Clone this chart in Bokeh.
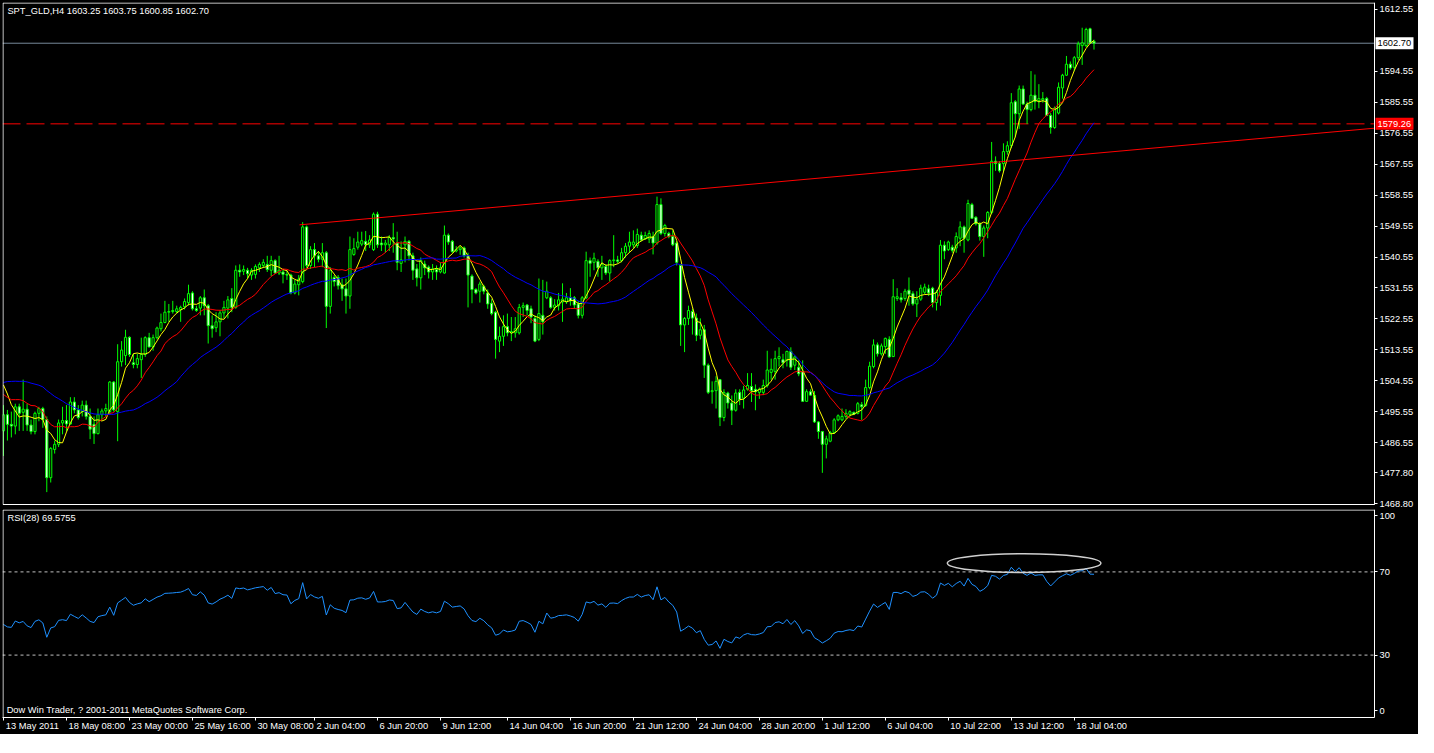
import numpy as np
from bokeh.plotting import figure
from bokeh.models import (ColumnDataSource, FixedTicker, Range1d, Label,
                          NumeralTickFormatter, LinearAxis)
from bokeh.layouts import column
from bokeh.embed import file_html
from bokeh.resources import INLINE

# ---------------- data (SPT_GLD, H4, 13 May 2011 08:00 .. 18 Jul 2011) ----------------
open_ = [
 1490.0,1494.7,1491.9,1491.4,1497.0,1495.4,1496.3,1491.7,1489.8,1495.1,
 1496.5,1493.3,1476.4,1484.6,1486.1,1492.3,1493.0,1492.0,1498.4,1496.1,
 1495.6,1497.5,1494.2,1491.9,1489.2,1494.7,1495.8,1495.6,1504.2,1495.6,
 1510.1,1511.9,1517.2,1509.8,1509.3,1510.7,1512.2,1517.1,1514.4,1517.1,
 1519.7,1521.5,1524.5,1524.7,1524.7,1525.3,1526.1,1527.3,1530.1,1525.5,
 1525.7,1528.7,1526.4,1520.6,1520.0,1521.7,1524.3,1525.7,1528.5,1525.9,
 1536.7,1536.4,1536.7,1535.3,1535.5,1537.4,1538.1,1538.4,1536.7,1539.5,
 1535.9,1536.2,1535.5,1535.3,1530.1,1532.5,1533.4,1549.3,1538.1,1542.7,
 1540.9,1539.9,1541.8,1526.2,1534.6,1534.6,1532.5,1531.3,1529.2,1541.3,
 1543.4,1544.3,1545.1,1544.1,1542.7,1553.0,1544.6,1544.1,1544.1,1546.2,
 1544.6,1538.7,1544.1,1545.1,1540.9,1537.1,1534.5,1538.5,1537.6,1536.2,
 1536.9,1536.2,1535.9,1546.9,1545.1,1542.3,1542.7,1543.2,1540.9,1535.0,
 1531.1,1530.6,1532.0,1530.1,1527.1,1524.5,1516.1,1517.5,1520.3,1518.5,
 1518.5,1518.5,1525.9,1526.6,1525.5,1522.7,1516.6,1523.6,1528.7,1528.7,
 1525.9,1526.4,1527.5,1527.5,1528.7,1528.7,1526.9,1523.6,1528.7,1539.5,
 1539.0,1539.3,1537.4,1537.8,1535.9,1539.5,1539.7,1539.5,1541.8,1543.7,
 1544.1,1543.9,1546.9,1545.8,1545.8,1546.5,1544.6,1555.8,1547.4,1547.4,
 1546.5,1544.6,1538.1,1520.8,1522.7,1524.7,1522.8,1517.8,1519.4,1509.1,
 1501.4,1501.7,1504.9,1493.9,1501.0,1498.1,1496.0,1501.2,1499.5,1502.1,
 1502.9,1502.1,1501.2,1501.2,1503.2,1507.0,1507.3,1511.0,1510.7,1510.5,
 1513.1,1509.1,1508.5,1507.3,1498.6,1501.4,1500.3,1492.6,1489.8,1486.1,
 1487.0,1489.5,1493.2,1493.2,1494.2,1494.8,1495.4,1495.1,1497.6,1497.4,
 1502.6,1508.7,1515.0,1512.4,1514.5,1516.6,1511.6,1528.5,1528.7,1528.5,
 1530.9,1529.9,1526.9,1528.3,1530.3,1531.3,1531.5,1527.3,1529.4,1544.0,
 1542.7,1543.4,1543.2,1546.0,1549.3,1545.5,1555.8,1552.1,1550.2,1546.5,
 1549.0,1553.5,1568.4,1567.7,1567.7,1571.2,1572.9,1585.7,1582.2,1589.4,
 1585.0,1583.4,1587.6,1586.0,1586.2,1586.6,1581.7,1578.2,1582.4,1589.7,
 1593.4,1596.6,1595.7,1598.5,1602.0,1602.0,1606.9,1603.25]
high_ = [
 1497.5,1496.1,1495.6,1497.9,1497.9,1504.9,1497.9,1493.3,1495.6,1497.0,
 1497.0,1494.2,1485.3,1487.2,1493.3,1497.0,1497.5,1499.8,1499.8,1497.5,
 1498.8,1498.8,1496.5,1494.2,1496.5,1496.5,1497.9,1504.5,1504.5,1515.2,
 1516.1,1519.4,1517.5,1512.4,1512.4,1517.1,1517.5,1518.5,1518.0,1520.3,
 1524.1,1527.8,1526.9,1527.8,1526.4,1526.4,1528.5,1532.5,1530.6,1526.4,
 1529.2,1531.1,1526.9,1523.6,1524.5,1525.0,1527.8,1529.2,1531.5,1538.1,
 1538.4,1538.1,1537.4,1537.3,1538.4,1539.0,1539.9,1540.9,1540.9,1539.9,
 1540.9,1537.1,1536.7,1535.7,1533.9,1535.3,1550.7,1549.7,1543.7,1544.6,
 1542.3,1544.6,1542.3,1537.6,1535.3,1535.3,1534.3,1534.3,1546.5,1546.0,
 1547.9,1547.9,1548.1,1546.9,1553.5,1553.7,1546.5,1545.5,1546.9,1550.4,
 1547.9,1545.1,1546.5,1545.5,1541.8,1538.5,1540.4,1539.5,1538.1,1538.5,
 1538.1,1539.0,1549.7,1547.4,1545.5,1543.7,1543.7,1543.6,1541.8,1535.5,
 1531.5,1533.4,1532.5,1531.1,1528.3,1524.9,1520.3,1523.6,1524.1,1523.1,
 1523.1,1526.9,1527.3,1526.9,1526.4,1523.6,1534.3,1533.9,1533.4,1529.2,
 1528.3,1530.1,1532.9,1530.1,1531.5,1529.2,1527.8,1529.2,1542.1,1540.4,
 1541.8,1539.9,1540.9,1538.5,1539.9,1546.9,1540.9,1543.2,1544.6,1547.9,
 1548.3,1548.8,1547.9,1547.9,1548.3,1547.9,1558.1,1557.6,1550.2,1547.9,
 1548.3,1545.1,1538.5,1523.1,1526.4,1525.5,1524.1,1522.7,1520.8,1509.6,
 1504.4,1505.9,1505.1,1502.1,1501.4,1500.3,1502.1,1502.1,1503.1,1506.8,
 1506.8,1503.5,1502.6,1504.9,1513.3,1511.0,1513.3,1514.3,1512.4,1513.3,
 1514.3,1511.9,1510.5,1510.5,1502.1,1502.1,1501.6,1492.8,1490.0,1488.6,
 1490.0,1493.7,1494.8,1496.5,1496.3,1496.0,1495.6,1498.4,1498.4,1504.9,
 1510.1,1516.6,1515.7,1515.4,1517.1,1517.5,1534.1,1531.5,1530.1,1531.3,
 1534.6,1530.6,1530.6,1532.5,1532.8,1532.5,1531.9,1530.9,1545.5,1545.1,
 1545.3,1544.1,1547.7,1550.9,1549.7,1557.2,1556.3,1552.4,1550.7,1549.7,
 1553.9,1574.0,1569.8,1568.4,1573.6,1574.2,1588.2,1586.2,1590.4,1590.4,
 1585.7,1594.6,1593.6,1590.8,1588.5,1587.1,1582.4,1584.3,1591.3,1593.8,
 1599.0,1597.4,1599.0,1603.2,1607.2,1607.2,1607.2,1603.75]
low_ = [
 1482.7,1487.2,1488.1,1489.0,1490.0,1490.0,1490.0,1489.0,1489.0,1492.8,
 1490.9,1472.2,1475.0,1483.4,1485.3,1489.0,1490.0,1491.9,1495.1,1493.3,
 1494.2,1493.3,1487.6,1486.2,1489.0,1493.3,1494.2,1494.7,1495.6,1487.0,
 1508.7,1509.1,1511.5,1508.2,1508.2,1505.4,1511.5,1514.3,1513.3,1516.6,
 1518.9,1521.3,1521.7,1524.1,1524.1,1521.7,1525.3,1526.4,1525.0,1524.6,
 1523.6,1523.6,1515.4,1517.1,1518.7,1517.5,1522.7,1522.7,1524.5,1525.5,
 1534.8,1535.3,1534.3,1533.9,1534.3,1536.2,1537.4,1536.2,1535.0,1535.7,
 1535.3,1532.9,1533.9,1529.7,1529.7,1529.4,1532.9,1537.4,1537.1,1537.6,
 1539.0,1537.6,1519.9,1524.1,1532.0,1531.1,1527.8,1524.1,1525.5,1540.9,
 1542.7,1543.7,1542.3,1543.2,1542.3,1543.2,1542.3,1541.8,1542.3,1541.8,
 1536.7,1536.2,1539.0,1539.5,1533.9,1532.0,1531.1,1535.3,1534.3,1533.9,
 1533.9,1535.8,1535.7,1544.1,1541.8,1541.9,1541.2,1540.4,1525.9,1527.1,
 1529.7,1527.3,1529.7,1525.5,1523.6,1511.0,1512.9,1514.7,1517.5,1516.1,
 1517.1,1518.0,1523.1,1523.6,1521.3,1515.8,1516.1,1518.0,1528.3,1525.5,
 1525.0,1525.0,1521.7,1526.9,1526.4,1525.5,1522.7,1522.7,1528.3,1534.8,
 1536.7,1534.8,1533.9,1535.3,1533.4,1537.6,1538.7,1539.0,1540.4,1541.8,
 1543.2,1543.2,1545.1,1545.5,1544.6,1541.3,1544.1,1546.9,1546.5,1546.0,
 1543.7,1538.1,1514.7,1512.9,1520.8,1518.0,1516.1,1516.6,1505.4,1500.7,
 1497.9,1496.5,1491.4,1492.8,1496.5,1491.7,1495.6,1497.5,1496.5,1501.7,
 1498.4,1496.0,1499.3,1500.4,1502.6,1504.9,1504.9,1508.7,1508.2,1508.7,
 1507.7,1507.7,1505.9,1498.4,1498.4,1500.3,1492.3,1487.7,1477.8,1482.0,
 1486.7,1489.1,1492.8,1492.8,1493.5,1494.2,1494.6,1494.8,1493.2,1497.0,
 1502.1,1508.2,1511.6,1511.9,1512.4,1511.3,1511.5,1527.8,1527.3,1527.8,
 1526.4,1526.4,1523.1,1527.8,1529.7,1529.2,1525.9,1525.0,1526.4,1539.9,
 1542.3,1541.8,1541.8,1543.7,1541.8,1545.1,1551.6,1549.7,1545.3,1540.6,
 1546.0,1553.0,1565.6,1565.1,1565.3,1570.3,1572.2,1575.4,1577.8,1584.8,
 1579.2,1582.9,1583.4,1583.8,1585.4,1581.5,1576.4,1577.8,1582.0,1586.6,
 1593.2,1595.0,1594.6,1597.8,1596.4,1601.6,1602.5,1600.85]
close_ = [
 1494.7,1491.9,1491.4,1497.0,1495.1,1496.3,1491.7,1489.8,1495.1,1496.5,
 1493.3,1476.4,1484.9,1486.1,1492.3,1493.0,1492.0,1498.4,1496.1,1493.9,
 1497.5,1494.2,1490.5,1489.2,1494.7,1495.8,1496.5,1504.2,1496.1,1510.1,
 1513.5,1517.2,1512.2,1509.3,1511.0,1512.2,1517.1,1514.4,1517.1,1519.9,
 1521.5,1524.5,1524.7,1525.0,1525.5,1525.9,1527.6,1529.9,1525.5,1525.0,
 1528.7,1526.4,1520.6,1519.7,1521.7,1524.3,1525.9,1528.1,1525.9,1536.7,
 1536.2,1536.9,1535.7,1536.7,1537.8,1538.4,1539.0,1536.9,1539.5,1535.9,
 1536.7,1535.5,1535.3,1530.1,1532.7,1534.1,1549.3,1538.1,1542.7,1540.9,
 1539.9,1541.8,1526.2,1536.7,1533.4,1532.2,1531.3,1529.2,1542.7,1543.0,
 1544.9,1545.3,1544.1,1545.5,1553.0,1544.1,1544.1,1544.6,1546.2,1545.8,
 1539.0,1539.7,1545.1,1540.9,1536.7,1534.5,1539.5,1537.4,1536.2,1537.1,
 1536.2,1537.4,1546.9,1544.9,1542.1,1542.7,1543.2,1540.9,1535.3,1531.1,
 1530.1,1532.7,1530.6,1526.9,1524.1,1516.6,1517.5,1520.3,1518.5,1518.9,
 1519.7,1525.9,1526.4,1525.0,1523.1,1516.1,1524.1,1521.7,1530.6,1525.9,
 1526.6,1528.1,1528.3,1528.7,1527.8,1526.6,1523.6,1528.7,1539.5,1538.7,
 1540.2,1537.4,1538.5,1535.9,1539.5,1539.7,1539.3,1541.8,1543.7,1544.9,
 1544.9,1547.1,1545.5,1546.8,1547.4,1544.6,1555.8,1547.4,1549.7,1546.5,
 1544.1,1539.0,1520.8,1522.7,1525.0,1522.8,1517.8,1519.4,1509.1,1501.2,
 1501.7,1504.4,1493.9,1501.2,1498.1,1496.0,1501.0,1499.1,1501.9,1503.2,
 1501.7,1501.4,1502.1,1503.2,1507.7,1507.9,1511.0,1511.6,1509.8,1513.1,
 1508.5,1511.5,1506.6,1498.6,1501.4,1500.4,1492.6,1489.8,1486.1,1487.7,
 1489.5,1493.2,1494.4,1494.2,1495.1,1495.6,1494.8,1497.9,1497.0,1502.6,
 1508.8,1515.0,1512.4,1514.7,1516.9,1511.5,1529.0,1529.0,1528.1,1530.6,
 1529.7,1526.9,1528.3,1531.5,1531.8,1530.1,1527.3,1530.3,1544.0,1542.3,
 1544.9,1542.5,1546.5,1549.3,1546.0,1556.1,1551.8,1550.2,1546.5,1549.0,
 1553.5,1568.4,1567.7,1565.6,1571.2,1572.9,1585.4,1582.2,1589.4,1585.0,
 1583.4,1587.6,1585.7,1586.6,1586.6,1581.7,1578.2,1583.8,1589.9,1593.4,
 1596.6,1595.5,1598.5,1602.5,1602.8,1606.7,1602.8,1602.70]

# closes of the 33 H4 bars before the first visible bar (off-screen; estimated so that
# the moving averages start where the picture shows them)
prior_close = [1483,1490,1495,1497,1495,1498,1502,1505,1507,1510,1512,1514,1516,1514,
               1517,1518,1516,1514,1512,1509,1507,1503,1500,1497,1495,1500,1502,1498,
               1496,1505,1507,1506,1504]

time_tick_bars = [0,16,32,48,64,79,95,111,128,144,160,176,192,208,224,240,256,272]
time_tick_labels = ["13 May 2011","18 May 08:00","23 May 00:00","25 May 16:00","30 May 08:00",
                    "2 Jun 04:00","6 Jun 20:00","9 Jun 12:00","14 Jun 04:00","16 Jun 20:00",
                    "21 Jun 12:00","24 Jun 04:00","28 Jun 20:00","1 Jul 12:00","6 Jul 04:00",
                    "10 Jul 22:00","13 Jul 12:00","18 Jul 04:00"]
price_ticks = [1612.55,1594.55,1585.55,1576.55,1567.55,1558.55,1549.55,1540.55,1531.55,
               1522.55,1513.55,1504.55,1495.55,1486.55,1477.80,1468.80]
bid_price = 1602.70
hline_price = 1579.26
trend_x = [75.2, 348.25]
trend_y = [1549.9, 1578.0]
rsi_period = 28
rsi_seed_gain, rsi_seed_loss = 1.7, 2.1
rsi_levels = [30, 70]
ma_periods = [5, 13, 34]
ma_colors = ["#ffff00", "#ff0000", "#0000ff"]
header = "SPT_GLD,H4  1603.25 1603.75 1600.85 1602.70"
rsi_text = "RSI(28) 69.5755"
copyright_text = "Dow Win Trader, ? 2001-2011 MetaQuotes Software Corp."
ellipse_center = (259.25, 74.2)
ellipse_size = (39, 9)

# ---------------- derived ----------------
n = len(close_)
idx = np.arange(n)
o = np.array(open_); h = np.array(high_); l = np.array(low_); c = np.array(close_)
bull = c >= o
src = ColumnDataSource(dict(
    x=idx, high=h, low=l,
    top=np.maximum(o, c), bottom=np.minimum(o, c),
    fill=np.where(bull, "black", "white")))

full = np.concatenate([np.array(prior_close, float), c])
npre = len(prior_close)
def sma(period):
    return np.array([full[npre + k - period + 1: npre + k + 1].mean() for k in range(n)])

ag, al = rsi_seed_gain, rsi_seed_loss
rsi_vals = [100 * ag / (ag + al)]
for k in range(1, n):
    d = c[k] - c[k - 1]
    ag = (ag * (rsi_period - 1) + max(d, 0)) / rsi_period
    al = (al * (rsi_period - 1) + max(-d, 0)) / rsi_period
    rsi_vals.append(100 * ag / (ag + al))

# ---------------- layout constants ----------------
FONT = "Liberation Sans"
FSPX = 9.3
FS = f"{FSPX}px"
LIME = "#00ff00"

XMIN, XMAX = -0.25, 348.25          # chart area (bars)
CHART_W = 1372                       # px of chart area
SCALE_W = 44                         # px of the price scale strip at the right
px_per_bar = CHART_W / (XMAX - XMIN)
X_END = XMAX + SCALE_W / px_per_bar
FRAME_W = CHART_W + SCALE_W
x_range = Range1d(XMIN, X_END)

MAIN_H = 502
EXT_PX = 5                           # room under the price chart for the lowest label
PY0, PY1 = 1468.6, 1614.54
py_per_px = (PY1 - PY0) / MAIN_H
RSI_H = 208

# Arial/Liberation Sans advance widths (per 1000 em) for the axis label characters
_adv = {"0":556,"1":556,"2":556,"3":556,"4":556,"5":556,"6":556,"7":556,"8":556,"9":556,
        " ":278,":":278,"M":833,"a":556,"y":500,"J":500,"u":556,"n":556,"l":222}
def text_w(s):
    return sum(_adv.get(ch, 556) for ch in s) * FSPX / 1000.0

def style_axis(ax):
    ax.axis_line_color = "white"
    ax.major_tick_line_color = "white"
    ax.minor_tick_line_color = None
    ax.major_tick_out = 3
    ax.major_tick_in = 0
    ax.major_label_text_color = "white"
    ax.major_label_text_font = FONT
    ax.major_label_text_font_size = FS
    ax.major_label_standoff = 2

def label(fig, x, y, text, **kw):
    args = dict(text_color="white", text_font=FONT, text_font_size=FS,
                text_baseline="middle", text_align="left")
    args.update(kw)
    fig.add_layout(Label(x=x, y=y, text=text, **args))

def panel_border(fig, y_bottom, y_top):
    xl = XMIN + 0.5 / px_per_bar
    fig.line([xl, XMAX, XMAX, xl, xl], [y_bottom, y_bottom, y_top, y_top, y_bottom],
             line_color="white", line_width=1)

def hline(fig, y, **kw):
    fig.line([XMIN, XMAX], [y, y], **kw)

def price_marker(fig, price, text, box_color, text_color):
    BOX_W, BOX_H = 38, 12
    fig.rect(x=[XMAX + (1 + BOX_W / 2) / px_per_bar], y=[price], width=BOX_W, height=BOX_H,
             width_units="screen", height_units="screen", fill_color=box_color,
             line_color=None)
    label(fig, XMAX, price, text, x_offset=3, text_color=text_color)

# ---------------- main price panel ----------------
p = figure(frame_width=FRAME_W, frame_height=MAIN_H + EXT_PX, x_range=x_range,
           y_range=Range1d(PY0 - EXT_PX * py_per_px, PY1), output_backend="svg",
           toolbar_location=None, background_fill_color="black",
           border_fill_color="black", y_axis_location=None, x_axis_location=None,
           min_border_left=2, min_border_top=2, min_border_bottom=0, min_border_right=0)
p.grid.visible = False
p.outline_line_color = None

price_axis = LinearAxis(ticker=FixedTicker(ticks=price_ticks), fixed_location=XMAX,
                        bounds=(PY0, PY1))
style_axis(price_axis)
price_axis.formatter = NumeralTickFormatter(format="0.00")
p.add_layout(price_axis, "right")

hline(p, bid_price, line_color="#778899", line_width=1)
hline(p, hline_price, line_color="#ff0000", line_width=1, line_dash="18 6")

p.segment(x0="x", y0="low", x1="x", y1="high", source=src, color=LIME, line_width=1)
p.vbar(x="x", width=0.55, top="top", bottom="bottom", source=src,
       fill_color="fill", line_color=LIME, line_width=1)

for per, col in zip(ma_periods, ma_colors):
    p.line(idx, sma(per), line_color=col, line_width=1)

p.line(trend_x, trend_y, line_color="#ff0000", line_width=1)
panel_border(p, PY0, PY1 - 0.5 * py_per_px)

label(p, 1.0, 1612.0, header)
price_marker(p, bid_price, "1602.70", "white", "black")
price_marker(p, hline_price, "1579.26", "#ff0000", "white")

# ---------------- RSI panel ----------------
r = figure(frame_width=FRAME_W, frame_height=RSI_H, x_range=x_range, y_range=Range1d(0, 100),
           output_backend="svg", toolbar_location=None, background_fill_color="black",
           border_fill_color="black", y_axis_location=None, x_axis_location=None,
           min_border_left=2, min_border_top=0, min_border_bottom=17, min_border_right=0)
r.grid.visible = False
r.outline_line_color = None

rsi_axis = LinearAxis(ticker=FixedTicker(ticks=[3.3, 30, 70, 97.0]), fixed_location=XMAX,
                      bounds=(0, 100))
style_axis(rsi_axis)
# 0 and 100 are written just inside the panel, as on the original
rsi_axis.major_label_overrides = {3.3: "0", 30: "30", 70: "70", 97.0: "100"}
r.add_layout(rsi_axis, "right")

# time axis: tick marks at the bars, labels written to the right of each tick
tick_axis = LinearAxis(ticker=FixedTicker(ticks=time_tick_bars), bounds=(XMIN, XMAX))
style_axis(tick_axis)
tick_axis.major_label_overrides = {b: "" for b in time_tick_bars}
tick_axis.major_label_text_font_size = "1px"
tick_axis.major_label_standoff = 0
r.add_layout(tick_axis, "below")

label_pos = [round(b + (2 + text_w(t) / 2) / px_per_bar, 3)
             for b, t in zip(time_tick_bars, time_tick_labels)]
label_axis = LinearAxis(ticker=FixedTicker(ticks=label_pos))
style_axis(label_axis)
label_axis.axis_line_color = None
label_axis.major_tick_line_color = None
label_axis.major_tick_out = 0
label_axis.major_label_standoff = 0
label_axis.major_label_overrides = {pp: t for pp, t in zip(label_pos, time_tick_labels)}
r.add_layout(label_axis, "below")

for lv in rsi_levels:
    hline(r, lv, line_color="#c0c0c0", line_width=1, line_dash="3 3")
r.line(idx, rsi_vals, line_color="#1e90ff", line_width=1)
r.ellipse(x=[ellipse_center[0]], y=[ellipse_center[1]], width=ellipse_size[0],
          height=ellipse_size[1], fill_color=None, line_color="#d0d0d0", line_width=1.5)
panel_border(r, 0, 100 - 0.5 * 100 / RSI_H)

label(r, 1.0, 95.7, rsi_text)
label(r, 0.8, 3.8, copyright_text)

layout = column(p, r, spacing=0, styles={"background-color": "black"})
open("out.html", "w").write(file_html(layout, INLINE))
